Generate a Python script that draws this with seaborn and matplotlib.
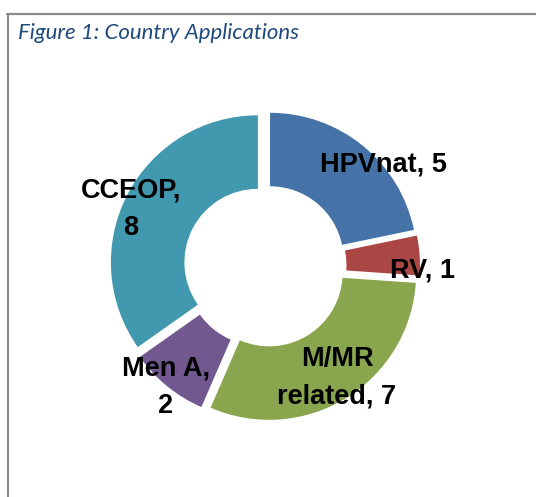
import matplotlib
matplotlib.use("Agg")  # headless
import matplotlib.pyplot as plt
from matplotlib.lines import Line2D
import seaborn as sns

sns.set_theme(style="white")
plt.rcParams["font.family"] = ["Liberation Sans", "DejaVu Sans"]

# data
programs = ["HPVnat", "RV", "M/MR\nrelated", "Men A", "CCEOP"]
applications = [5, 1, 7, 2, 8]
colors = ["#4572A7", "#AA4643", "#89A54E", "#71588F", "#4198AF"]

# label centres, pixels from the top-left of the image
label_px = [(383, 164), (422, 271), (337, 378), (166, 387), (131, 209)]
label_text = ["HPVnat, 5", "RV, 1", "M/MR\nrelated, 7", "Men A,\n2", "CCEOP,\n8"]

W, H = 536, 497
fig = plt.figure(figsize=(W / 100, H / 100), dpi=100)
ax = fig.add_axes([0, 0, 1, 1])

cx, cy, R = 265, H - 266, 147
pal = sns.color_palette(colors)
# explode is in data units (pixels here)
ax.pie(applications, colors=pal, startangle=90, counterclock=False,
       radius=R, center=(cx, cy), explode=[8] * len(applications),
       wedgeprops=dict(width=R * 0.5, linewidth=0))

for (px, py), txt in zip(label_px, label_text):
    ax.text(px, H - py, txt, ha="center", va="center", fontsize=19.5,
            fontweight="bold", color="black", linespacing=1.6)

ax.set_xlim(0, W)
ax.set_ylim(0, H)
ax.set_aspect("equal")
ax.axis("off")

# frame of the figure box (runs off the right and bottom edges)
fig.add_artist(Line2D([7.5 / W, 7.5 / W], [0, 1 - 14 / H], transform=fig.transFigure,
                      color="#8c8c8c", lw=1.6))
fig.add_artist(Line2D([7 / W, 1], [1 - 14 / H, 1 - 14 / H], transform=fig.transFigure,
                      color="#8c8c8c", lw=1.6))

fig.text(18 / W, 1 - 33 / H, "Figure 1: Country Applications", ha="left", va="center",
         fontsize=16, style="italic", color="#1F497D", family=["Lato", "DejaVu Sans"])

plt.savefig("out.png", dpi=100)
